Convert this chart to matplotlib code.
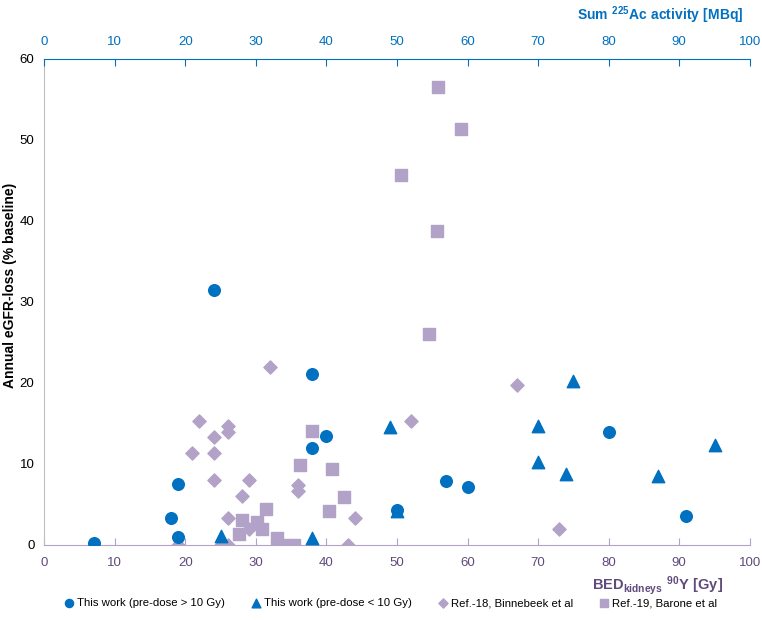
import matplotlib
matplotlib.use("Agg")
import matplotlib.pyplot as plt
import numpy as np

plt.rcParams['font.family'] = ['Liberation Sans', 'DejaVu Sans']
plt.rcParams['mathtext.fontset'] = 'custom'
plt.rcParams['mathtext.rm'] = 'Liberation Sans'
plt.rcParams['mathtext.bf'] = 'Liberation Sans:bold'

# this work, pre-dose > 10 Gy (circles)
hi_x = [7, 18, 19, 19, 24, 38, 38, 40, 50, 57, 60, 80, 91]
hi_y = [0.2, 3.3, 1.0, 7.5, 31.5, 21.1, 12.0, 13.4, 4.3, 7.9, 7.1, 13.9, 3.6]

# this work, pre-dose < 10 Gy (triangles)
lo_x = [25, 38, 49, 50, 70, 70, 74, 75, 87, 95]
lo_y = [1.1, 0.9, 14.6, 4.2, 14.7, 10.2, 8.7, 20.2, 8.5, 12.3]

# Ref.-18, Binnebeek (diamonds)
binn_x = [19, 21, 22, 24, 24, 24, 25, 26, 26, 26, 26, 28, 29, 29, 32, 36, 36, 43, 44, 52, 67, 73]
binn_y = [0, 11.3, 15.3, 13.3, 11.3, 8.0, 0, 0, 14.7, 14.0, 3.3, 6.0, 2.0, 8.0, 22.0, 7.4, 6.7, 0, 3.3, 15.3, 19.8, 2.0]

# Ref.-19, Barone (squares)
bar_x = [27.6, 28, 30.1, 30.8, 31.4, 33, 33.7, 35.4, 36.2, 38, 40.3, 40.8, 42.5, 50.5, 54.5, 55.7, 55.8, 59.0]
bar_y = [1.4, 3.1, 2.8, 2.0, 4.4, 0.9, 0, 0, 9.9, 14.1, 4.2, 9.4, 5.9, 45.7, 26.0, 38.7, 56.5, 51.3]

blue = '#0070C0'
lav = '#B3A2C7'
purple = '#604A7B'

fig = plt.figure(figsize=(7.62, 6.2), dpi=100)
ax = fig.add_axes([0.058, 0.121, 0.926, 0.784])

ax.scatter(hi_x, hi_y, marker='o', s=70, color=blue, zorder=3, label='This work (pre-dose > 10 Gy)')
ax.scatter(lo_x, lo_y, marker='^', s=80, color=blue, zorder=3, label='This work (pre-dose < 10 Gy)')
ax.scatter(binn_x, binn_y, marker='D', s=45, color=lav, zorder=2, label='Ref.-18, Binnebeek et al')
ax.scatter(bar_x, bar_y, marker='s', s=70, color=lav, zorder=2, label='Ref.-19, Barone et al')

ax.set_xlim(0, 100)
ax.set_ylim(0, 60)
ax.set_xticks(np.arange(0, 101, 10))
ax.set_yticks(np.arange(0, 61, 10))
ax.spines['right'].set_visible(False)
ax.spines['top'].set_visible(False)
ax.spines['left'].set_color('#BFBFBF')
ax.spines['bottom'].set_color(lav)
ax.tick_params(axis='x', direction='in', length=5, color=lav, labelcolor=purple, labelsize=9.5, pad=9)
ax.tick_params(axis='y', length=0, labelsize=9.5, pad=7)
ax.set_ylabel('Annual eGFR-loss (% baseline)', fontsize=10, fontweight='bold')
ax.yaxis.set_label_coords(-0.039, 0.535)

top = ax.twiny()
top.set_xlim(0, 100)
top.set_xticks(np.arange(0, 101, 10))
for s in ['left', 'right', 'bottom']:
    top.spines[s].set_visible(False)
top.spines['top'].set_color(blue)
top.tick_params(axis='x', direction='in', length=5, color=blue, labelcolor=blue, labelsize=9.5, pad=8)

fig.text(0.975, 0.975, r'$\mathbf{Sum\ {}^{225}Ac\ activity\ [MBq]}$', color=blue,
         fontsize=10, ha='right', va='center')
fig.text(0.949, 0.055, r'$\mathbf{BED_{kidneys}\ {}^{90}Y\ [Gy]}$', color=purple,
         fontsize=10.5, ha='right', va='center')

fig.legend(loc='center', bbox_to_anchor=(0.512, 0.027), ncol=4, frameon=False,
           fontsize=8.2, handletextpad=0.2, columnspacing=2.25, markerscale=0.7,
           handlelength=1.0, borderpad=0.2)

fig.savefig('out.png', dpi=100)
